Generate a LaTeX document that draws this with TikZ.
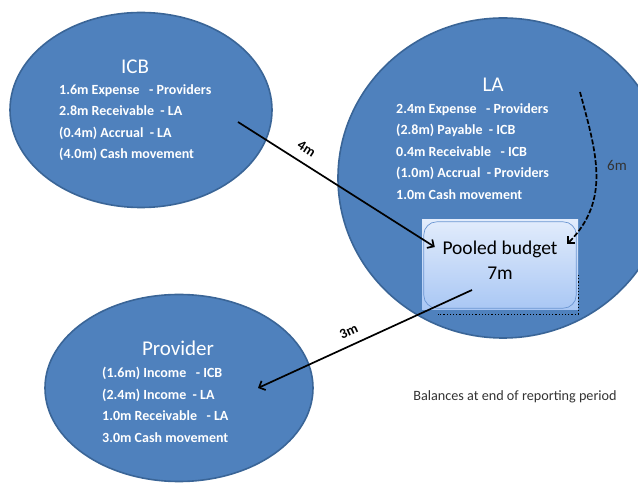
\documentclass[tikz,border=0pt]{standalone}
\usepackage{fontspec}
\setmainfont{Carlito}
\usepackage{xcolor}
\usepackage{tikz}
\usetikzlibrary{positioning,arrows.meta,shapes.geometric}

\definecolor{blobfill}{HTML}{4F81BD}
\definecolor{blobline}{HTML}{3A6597}
\definecolor{pooltop}{HTML}{E2ECFC}
\definecolor{poolbot}{HTML}{A9C7F4}
\definecolor{poolline}{HTML}{6C96D2}

\begin{document}
\begin{tikzpicture}[
  x=1pt, y=-1pt,
  blob/.style={ellipse, draw=blobline, line width=1.6pt, fill=blobfill, inner sep=0pt},
  ttl/.style={text=white, font=\fontsize{21}{24}\selectfont, inner sep=0pt},
  body/.style={text=white, font=\bfseries\fontsize{14}{21.5}\selectfont, align=left, inner sep=0pt, anchor=north west},
  amt/.style={font=\bfseries\fontsize{14}{16}\selectfont, inner sep=0pt},
  flow/.style={-{Straight Barb[length=5pt,width=10pt,line width=1.7pt]}, line width=1.7pt},
]
\useasboundingbox (0,0) rectangle (638,486);
% the three parties
\node[blob, minimum width=262pt, minimum height=195pt] (icb) at (141,110) {};
\node[blob, minimum width=330pt, minimum height=320pt] (la) at (503,178) {};
\node[blob, minimum width=268pt, minimum height=187pt] (prov) at (179,388) {};
\node[ttl] (icbt) at (135,67) {ICB};
\node[ttl] (lat) at (493,85) {LA};
\node[ttl] (provt) at (178,348) {Provider};
\node[body] (icbb) at (59,84) {1.6m Expense\ \ \ - Providers\\2.8m Receivable\ \ - LA\\(0.4m) Accrual\ \ - LA\\(4.0m) Cash movement};
\node[body] (lab) at (396,103) {2.4m\ Expense\ \ \ - Providers\\(2.8m) Payable\ \ - ICB\\0.4m Receivable\ \ \ - ICB\\(1.0m) Accrual\ \ - Providers\\1.0m\ Cash movement};
\node[body] (provb) at (102,367) {(1.6m) Income\ \ \ - ICB\\(2.4m) Income\ \ - LA\\1.0m Receivable\ \ \ - LA\\3.0m Cash movement};
% pooled budget
\node[draw=none, shade, top color=pooltop, bottom color=poolbot, minimum width=156pt, minimum height=90pt] (pool) at (500,265) {};
\draw[poolline, line width=0.7pt, rounded corners=13pt] ([shift={(2,2)}]pool.north west) rectangle ([shift={(-2,-2)}]pool.south east);
\node[align=center, font=\fontsize{19.5}{25}\selectfont, inner sep=0pt] (poolt) at (500,260) {Pooled budget\\7m};
\draw[dotted, line width=1.2pt] ([yshift=-10pt]pool.east) -- ([yshift=-4pt]pool.south east) -- ([shift={(16,4)}]pool.south west);
% flows
\coordinate (icbout) at ([shift={(97,12)}]icb.center);
\coordinate (laout) at ([shift={(77,-86)}]la.center);
\coordinate (poolout) at ([shift={(-28,25)}]pool.center);
\coordinate (provin) at ([shift={(79,0)}]prov.center);
\draw[flow] (icbout) -- ([shift={(13,-18)}]pool.west) node[amt, sloped, above=9pt, pos=.31]{4m};
\draw[flow, dash pattern=on 5pt off 2pt] (laout) to[out=-75, in=45, looseness=1.05] ([shift={(-11,-21)}]pool.east);
\node[font=\fontsize{15}{17}\selectfont, text=black!80] (six) at (617,165) {6m};
\draw[flow] (poolout) -- (provin) node[amt, sloped, above=8pt, pos=.55]{3m};
\node[font=\fontsize{14.2}{16}\selectfont, text=black!80, inner sep=0pt] (note) at (515,397) {Balances at end of reporting period};
\end{tikzpicture}
\end{document}
